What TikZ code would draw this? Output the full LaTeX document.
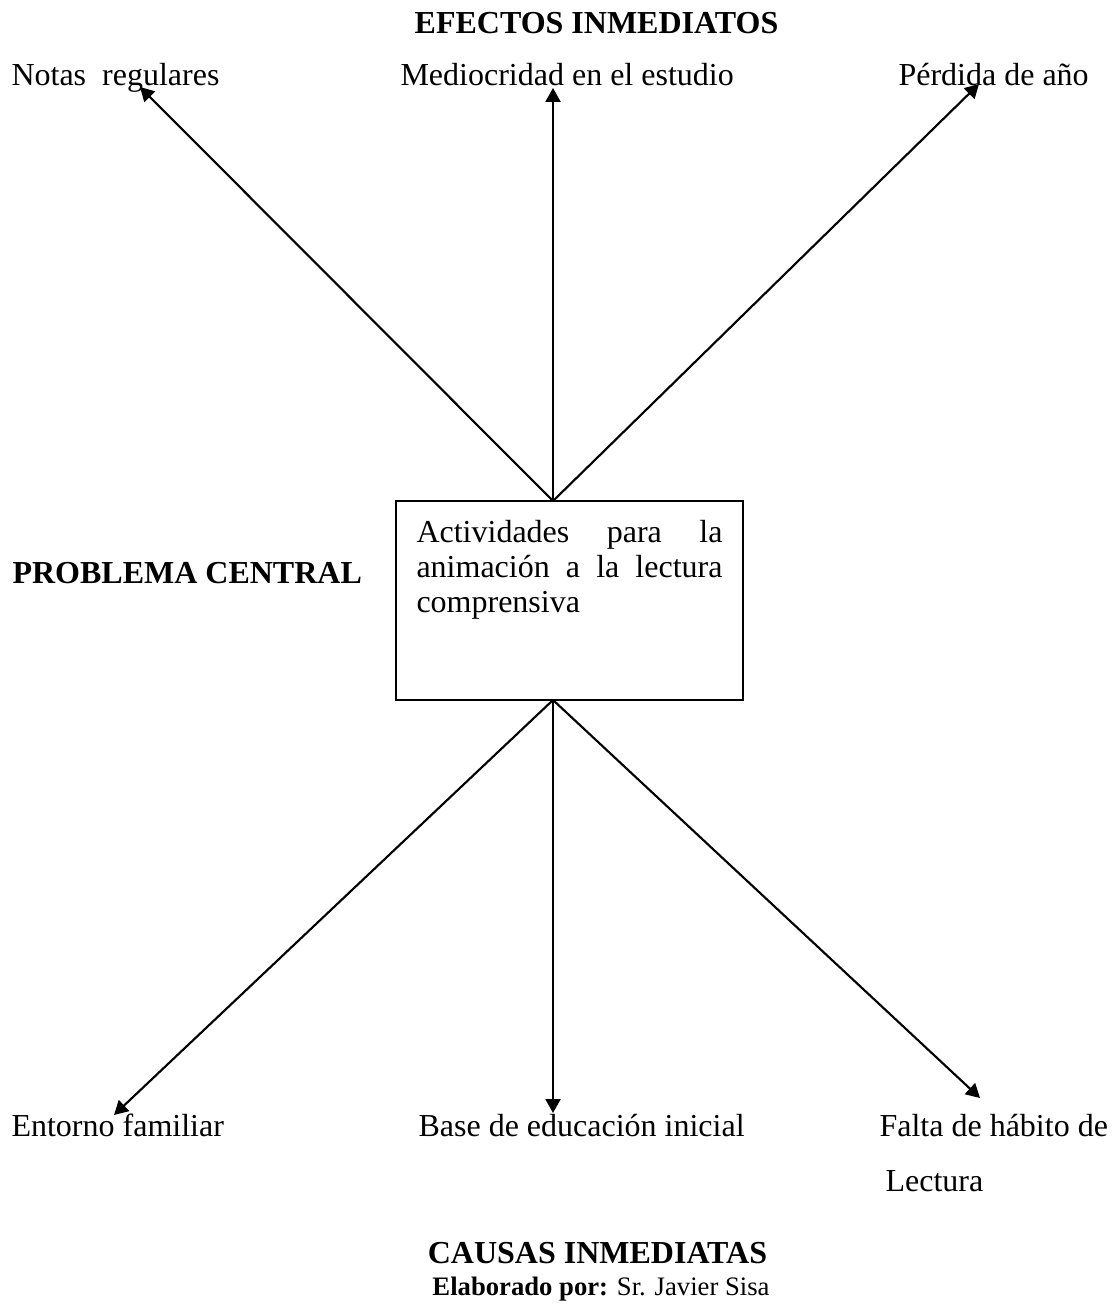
\documentclass[tikz,border=0pt]{standalone}
\usepackage{fontspec}
\setmainfont{Liberation Serif}
\usetikzlibrary{arrows.meta}

\tikzset{
    lbl/.style={inner sep=0pt, anchor=base west, font=\fontsize{12}{14}\selectfont},
    head/.style={inner sep=0pt, anchor=base, font=\fontsize{12}{14}\selectfont\bfseries},
    probbox/.style={draw, line width=0.7pt, inner xsep=7.6pt, inner ysep=7.2pt},
    arr/.style={line width=0.8pt, -{Triangle[length=5.2pt, width=5.6pt]}}
}

\begin{document}
\begin{tikzpicture}[x=0.375pt, y=-0.375pt]
    \useasboundingbox (0,0) rectangle (1114,1304);

    % Effects
    \node[head] (efectos) at (596.5,33.5) {EFECTOS INMEDIATOS};
    \node[lbl] (notas) at (11,86) {Notas\ \ regulares};
    \node[lbl] (medio) at (400,86) {Mediocridad en el estudio};
    \node[lbl] (perdida) at (898,86) {Pérdida de año};

    % Central problem
    \node[lbl, font=\fontsize{12}{14}\selectfont\bfseries] (central) at (12,583) {PROBLEMA CENTRAL};
    \node[probbox] (prob) at (569.5,600.5) {\parbox[c][60.2pt][t]{114.75pt}{%
        \fontsize{12}{13.1}\selectfont\tolerance=10000\hyphenpenalty=10000
        Actividades para la\linebreak animación a la lectura\linebreak comprensiva}};

    % Causes
    \node[lbl] (entorno) at (11,1136) {Entorno familiar};
    \node[lbl] (base) at (418,1136) {Base de educación inicial};
    \node[lbl] (falta) at (879,1136) {Falta de hábito de};
    \node[lbl] (lectura) at (885,1191) {Lectura};
    \node[head] (causas) at (597.5,1263) {CAUSAS INMEDIATAS};
    \node[inner sep=0pt, anchor=base, font=\fontsize{10}{12}\selectfont] (autor) at (601,1295)
        {\textbf{Elaborado por:} Sr. Javier Sisa};

    % Arrow ends
    \coordinate (up) at (553,501);
    \coordinate (down) at (553,700);
    \coordinate (tn) at (140,87);
    \coordinate (tm) at (553,88);
    \coordinate (tp) at (979,84);
    \coordinate (te) at (114,1115);
    \coordinate (tb) at (553,1113);
    \coordinate (tf) at (980,1098);

    % Arrows
    \draw[arr] (up) -- (tn);
    \draw[arr] (up) -- (tm);
    \draw[arr] (up) -- (tp);
    \draw[arr] (down) -- (te);
    \draw[arr] (down) -- (tb);
    \draw[arr] (down) -- (tf);
\end{tikzpicture}
\end{document}
